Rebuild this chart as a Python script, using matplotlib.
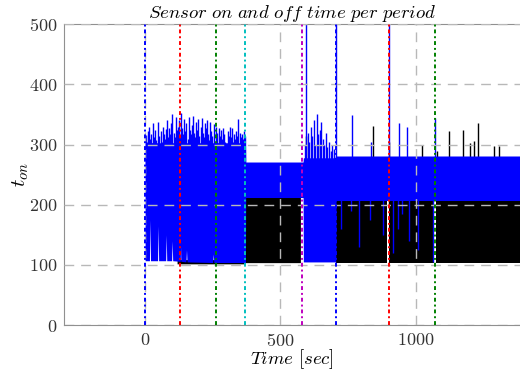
import numpy as np
import matplotlib
matplotlib.use("Agg")
import matplotlib.pyplot as plt

# --- DATA ---
# blue series (t_on): solid envelope, x in sec
blue_x = [0, 16, 18, 20, 46, 48, 50, 76, 78, 80, 98, 100, 102, 130, 131, 132, 151, 153, 155,
          250, 252, 254, 371, 372, 584, 585, 705, 706, 1390]
blue_lo = [107, 107, 175, 107, 107, 165, 107, 107, 150, 107, 107, 140, 107, 106, 130, 106,
           105, 125, 105, 104, 118, 104, 104, 212, 212, 105, 105, 207, 207]
blue_hi = [303, 303, 303, 303, 303, 303, 303, 303, 303, 303, 303, 303, 303, 303, 303, 303,
           303, 303, 303, 303, 303, 303, 303, 271, 271, 278, 278, 281, 281]

# blue spikes above the envelope (x, t_on)
blue_spk_x = [2, 6, 9, 13, 17, 21, 25, 29, 33, 37, 41, 45, 49, 53, 57, 61, 65, 69, 73, 77,
              81, 85, 89, 93, 97, 101, 105, 109, 113, 117, 121, 125, 129, 133, 137, 141,
              145, 149, 153, 157, 161, 165, 169, 173, 177, 181, 185, 189, 193, 197, 201,
              205, 209, 213, 217, 221, 225, 229, 233, 237, 241, 245, 249, 253, 257, 261,
              265, 269, 273, 277, 281, 285, 289, 293, 297, 301, 305, 309, 313, 317, 321,
              325, 329, 333, 337, 341, 345, 349, 353, 357, 361, 365, 369,
              590, 596, 602, 607, 612, 618, 623, 628, 634, 640, 645, 650, 656, 662, 668,
              674, 680, 686, 692, 698,
              706, 765, 835, 902, 940, 968, 1072]
blue_spk_y = [316, 305, 322, 330, 310, 318, 302, 335, 312, 325, 308, 300, 338, 315, 322,
              305, 330, 318, 310, 326, 340, 312, 328, 318, 335, 350, 320, 312, 345, 325,
              330, 340, 315, 352, 328, 318, 342, 322, 335, 310, 345, 325, 318, 332, 348,
              320, 312, 338, 325, 342, 315, 330, 344, 320, 312, 336, 328, 340, 318, 308,
              338, 322, 315, 334, 305, 330, 320, 302, 328, 315, 325, 310, 328, 318, 305,
              300, 322, 315, 330, 312, 328, 305, 318, 310, 322, 315, 343, 320, 312, 318,
              310, 322, 315,
              300, 520, 320, 305, 330, 315, 340, 300, 350, 318, 325, 338, 310, 300, 320,
              296, 305, 290, 300, 292,
              520, 349, 305, 520, 335, 329, 344]
# blue dips below the envelope (x, t_on)
blue_dip_x = [725, 760, 790, 830, 880, 915, 935, 950, 975, 1010, 1065]
blue_dip_y = [160, 190, 130, 175, 150, 120, 160, 185, 140, 125, 105]

# black series (t_off): solid envelope
black_x = [120, 371, 372, 576, 577, 705, 706, 893, 894, 902, 903, 1069, 1070, 1076, 1077, 1390]
black_lo = [101, 101, 103, 103, np.nan, np.nan, 103, 103, np.nan, np.nan, 103, 103,
            np.nan, np.nan, 103, 103]
black_hi = [108, 108, 217, 217, np.nan, np.nan, 209, 209, np.nan, np.nan, 209, 209,
            np.nan, np.nan, 209, 209]

# black spikes (x, t_off)
black_spk_x = [20, 595, 640, 843, 900, 1025, 1080, 1124, 1175, 1200, 1215, 1230, 1290, 1310]
black_spk_y = [294, 315, 300, 331, 305, 300, 290, 322, 324, 303, 306, 335, 298, 297]

# event markers
event_x = [0, 129, 262, 370, 580, 706, 902, 1072]
event_c = ['b', 'r', 'g', 'c', 'm', 'b', 'r', 'g']

plt.rcParams['mathtext.fontset'] = 'cm'
plt.rcParams['font.family'] = 'serif'
plt.rcParams['font.serif'] = ['cmr10', 'DejaVu Serif']
plt.rcParams['axes.formatter.use_mathtext'] = True

fig = plt.figure(figsize=(5.2, 3.72), dpi=100)
ax = fig.add_axes([0.123, 0.126, 0.877, 0.809])

ax.fill_between(black_x, black_lo, black_hi, color='k', lw=0, zorder=1)
ax.vlines(black_spk_x, 200, black_spk_y, color='k', lw=1.0, zorder=1)
ax.fill_between(blue_x, blue_lo, blue_hi, color='#0000ff', lw=0, zorder=2)
ax.vlines(blue_spk_x, 250, blue_spk_y, color='#0000ff', lw=1.0, zorder=2)
ax.vlines(blue_dip_x, blue_dip_y, 215, color='#0000ff', lw=1.0, zorder=2)

for xe, ce in zip(event_x, event_c):
    ax.axvline(xe, color=ce, ls=(0, (2, 1.5, 1, 1.5)), lw=1.4, zorder=3)

ax.set_xlim(-300, 1386)
ax.set_ylim(0, 500)
ax.set_xticks([0, 500, 1000])
ax.set_yticks([0, 100, 200, 300, 400, 500])
ax.grid(True, color='#b8b8b8', ls=(0, (7, 5)), lw=1.0, zorder=0)
ax.set_axisbelow(False)
for s in ['left', 'top', 'bottom']:
    ax.spines[s].set_color('#909090')
ax.spines['right'].set_visible(False)
ax.tick_params(length=0, labelsize=13, colors='#333333', pad=5)

ax.set_title(r'$Sensor\ on\ and\ off\ time\ per\ period$', fontsize=13.5, pad=3)
ax.set_xlabel(r'$Time\ [sec]$', fontsize=13.5, labelpad=-1)
ax.set_ylabel(r'$t_{on}$', fontsize=15, labelpad=-2)

fig.savefig('out.png', dpi=100)
